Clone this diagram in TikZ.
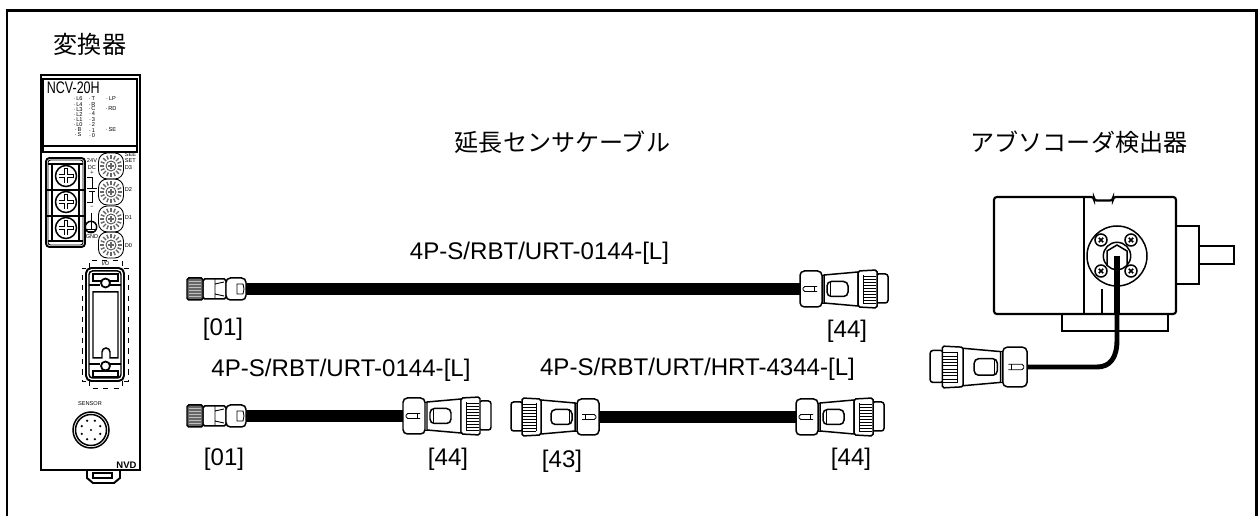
\documentclass[tikz,border=0pt]{standalone}
\usepackage{fontspec}
\setmainfont{Liberation Sans}
\newfontfamily\jpfont{Noto Sans CJK JP}
\newfontfamily\narrowfont[FakeStretch=0.75]{Liberation Sans}
\usetikzlibrary{arrows,shapes,positioning,calc}

\newcommand{\tinysize}{\fontsize{3.2}{3.6}\selectfont}

\tikzset{
  thinline/.style={line width=0.85pt},
  hairline/.style={line width=0.5pt},
  cable/.style={line width=6.4pt},
  jplabel/.style={font=\jpfont\fontsize{13.7}{14}\selectfont, inner sep=0pt},
  partlabel/.style={font=\fontsize{13.7}{14}\selectfont, inner sep=0pt},
  panellabel/.style={font=\tinysize, inner sep=0pt},
  % cable side plug, tail at the origin, nose towards +x
  bigplug/.pic={
    \coordinate (-tail) at (0,0);
    \draw[thinline,fill=white] (58,-17) -- (24,-14) -- (24,14) -- (58,17) -- cycle;
    \draw[thinline,fill=white,rounded corners=2.5pt] (0,-18) -- (22,-18) -- (22,18) -- (0,18) -- cycle;
    \draw[hairline] (24,-14) -- (22,-14) (24,14) -- (22,14);
    \draw[hairline,rounded corners=1pt] (17,-2.5) -- (3,-2.5) -- (3,2.5) -- (17,2.5);
    \draw[hairline] (14,-2.5) -- (14,2.5);
    \draw[thinline,rounded corners=2.5pt] (27,-7.5) rectangle (48,7.5);
    \draw[hairline] (30,-7.5) -- (30,7.5);
    \draw[thinline,fill=white,rounded corners=1.5pt] (76,-15) -- (88,-15) -- (88,14) -- (76,14) -- cycle;
    \draw[thinline,fill=white,rounded corners=1pt] (58,-18) -- (77,-19) -- (77,19) -- (58,18) -- cycle;
    \foreach \yy in {-13,-10,...,14} \draw[hairline] (63,\yy) -- (76,\yy);
    \draw[hairline] (63,-14) -- (63,14);
  },
  % sensor side plug, tail at the origin, nose towards -x
  smallplug/.pic={
    \coordinate (-tail) at (0,0);
    \draw[thinline,fill=white,rounded corners=1pt] (-43,-10) rectangle (-20,10);
    \draw[hairline] (-31,-10) -- (-31,10) (-31,-5) -- (-22,-7) (-31,5) -- (-22,7);
    \draw[thinline,fill=white,rounded corners=2.5pt] (-20,-11) rectangle (0,11);
    \draw[hairline] (-9,-5) -- (-3,-5) -- (-2,0) -- (-3,5) -- (-9,5) -- cycle;
    \draw[thinline,fill=black!60,rounded corners=1pt] (-59,-11) rectangle (-43,11);
    \foreach \yy in {-8,-5,...,9} \draw[hairline,black!25] (-57,\yy) -- (-45,\yy);
  },
  % rotary switch on the panel
  dialsw/.pic={
    \draw[hairline,rounded corners=5pt] (-12.5,-13) rectangle (12.5,13);
    \foreach \ang in {0,22.5,...,337.5} {
      \draw[line width=0.8pt,black!60] (\ang:7) -- (\ang:11);
    }
    \draw[hairline,black!70,fill=white] (0,0) circle (5);
    \draw[line width=0.8pt,black!60] (-3,0) -- (3,0) (0,-3) -- (0,3);
  },
  % terminal screw
  termscrew/.pic={
    \draw[thinline,fill=white] (0,0) circle (10.5);
    \draw[line width=2.2pt] (-7.5,0) -- (7.5,0) (0,-7.5) -- (0,7.5);
    \draw[line width=1.2pt,white] (-7,0) -- (7,0) (0,-7) -- (0,7);
  },
  % encoder cover screw
  coverscrew/.pic={
    \draw[thinline,fill=white] (0,0) circle (6);
    \draw[line width=0.9pt] (-2.2,-2.2) -- (2.2,2.2) (-2.2,2.2) -- (2.2,-2.2);
  }
}

\begin{document}
\begin{tikzpicture}[x=0.02cm,y=-0.02cm]
\useasboundingbox (0,0) rectangle (1259,516);

% Outer frame, open at the bottom
\draw[line width=1.7pt] (7,516) -- (7,11) -- (1256,11) -- (1256,516);

% Headings
\node[jplabel] (convtitle) at (90,44) {変換器};
\node[jplabel] (cabletitle) at (562.5,142) {延長センサケーブル};
\node[jplabel] (enctitle) at (1079,142) {アブソコーダ検出器};

% Converter body
\draw[line width=1.2pt] (41,75) rectangle (140,470);
\draw[line width=1.1pt] (43,79) rectangle (137,152);
\draw[thinline] (43,146) -- (137,146);
\node[anchor=west,inner sep=0pt,font=\narrowfont\fontsize{9.5}{10}\selectfont] (model) at (46.5,87.5) {NCV-20H};

% Indicator labels
\foreach \txt/\yy [count=\i] in {L6/99,L4/105,L3/109.6,L2/114.5,L1/120,L0/124.6,B/130,S/135} {
  \node[panellabel] (ledA\i) at (78,\yy) {·\,\txt};
}
\foreach \txt/\yy [count=\i] in {T/99,R/104.2,C/109,4/114,3/120,2/125,1/130.5,0/135.5} {
  \node[panellabel] (ledB\i) at (92,\yy) {·\,\txt};
}
\node[panellabel] (ledLP) at (111,99) {·\,LP};
\node[panellabel] (ledRD) at (111,109) {·\,RD};
\node[panellabel] (ledSE) at (111,130) {·\,SE};

% Terminal block
\draw[line width=1.1pt,rounded corners=2pt] (46,158) rectangle (85,247);
\draw[hairline,rounded corners=1.5pt] (48,160) rectangle (83,245);
\draw[thinline] (48,164) -- (83,164) (48,241) -- (83,241);
\draw[thinline] (52,164) -- (52,241) (79,164) -- (79,241);
\draw[thinline] (46,190) -- (85,190) (46,216) -- (85,216);
\foreach \yy/\nm in {176/a,202/b,228/c} {
  \pic (screw\nm) at (66,\yy) {termscrew};
}
\node[panellabel,align=center] (power) at (92,164) {24V\\DC};
\node[panellabel] (plus) at (92,173) {+};
\draw[hairline] (87,177) -- (92,177) -- (92,188) (87,188) -- (97,188) (89,191) -- (95,191) (92,191) -- (92,202) -- (87,202);
\node[panellabel] (minus) at (92,207) {−};
\draw[thinline] (91,227) circle (5.7);
\draw[hairline] (91,213) -- (91,229) (86,229) -- (96,229) (88,231) -- (94,231);
\node[panellabel] (gnd) at (92,237) {GND};

% Rotary switches
\foreach \yy/\nm in {166/d,192/c,219/b,245/a} {
  \pic (dial\nm) at (111,\yy) {dialsw};
}
\node[panellabel,align=left,anchor=west] (setd) at (124.5,161) {SEE\\SET\\D3};
\node[panellabel,anchor=west] (dtwo) at (124.5,190) {D2};
\node[panellabel,anchor=west] (done) at (124.5,218) {D1};
\node[panellabel,anchor=west] (dzero) at (124.5,246) {D0};

% I/O connector
\node[panellabel] (iolabel) at (105.5,263) {I/O};
\draw[hairline,dashed] (89,268) -- (89,260) -- (122,260) -- (122,268);
\draw[hairline,dashed] (89,381) -- (89,388) -- (122,388) -- (122,381);
\draw[hairline,dashed] (86,268) -- (82,268) -- (82,381) -- (86,381);
\draw[hairline,dashed] (124,268) -- (128,268) -- (128,381) -- (124,381);
\draw[line width=1.1pt,rounded corners=3pt] (86,268) rectangle (124,381);
\draw[thinline,rounded corners=2pt] (89,271) rectangle (121,378);
\draw[thinline] (93,274) rectangle (118,281) (93,371) rectangle (118,377);
\draw[thinline] (89,285) -- (100,285) (110,285) -- (121,285) (89,364) -- (100,364) (110,364) -- (121,364);
\draw[line width=1pt,fill=white] (105.5,283) circle (4.5) (105.5,366) circle (4.5);
\draw[thinline] (93,292) -- (118,292) -- (118,358) -- (110,358) -- (110,352) arc (0:-180:4) -- (102,358) -- (93,358) -- cycle;

% Sensor socket
\node[panellabel] (sensorlabel) at (90,404) {SENSOR};
\draw[thinline] (91,430) circle (18);
\draw[thinline] (91,430) circle (15.5);
\foreach \ang in {22.5,67.5,...,337.5} {
  \fill ($(91,430)+(\ang:10)$) circle (1.2);
}
\fill (91,430) circle (1.2);

% Logo and bottom clip
\node[inner sep=0pt,font=\fontsize{5.4}{6}\bfseries\selectfont] (logo) at (126.5,465) {NVD};
\draw[line width=1.1pt] (87,470) -- (87,478) -- (93,483) -- (114,483) -- (120,478) -- (120,470);
\draw[thinline] (93,473) rectangle (112,478);

% Cable rows
\pic (plugA) at (246,289) {smallplug};
\pic (plugB) at (800,289) {bigplug};
\pic (plugC) at (246,416) {smallplug};
\pic (plugD) at (403,416) {bigplug};
\pic[xscale=-1] (plugE) at (599,417) {bigplug};
\pic (plugF) at (796,417) {bigplug};
\draw[cable] (plugA-tail) -- (plugB-tail);
\draw[cable] (plugC-tail) -- (plugD-tail);
\draw[cable] (plugE-tail) -- (plugF-tail);

% Cable names
\node[partlabel] (nameA) at (539.5,253) {4P-S/RBT/URT-0144-[L]};
\node[partlabel] (nameB) at (341,370) {4P-S/RBT/URT-0144-[L]};
\node[partlabel] (nameC) at (697.5,369) {4P-S/RBT/URT/HRT-4344-[L]};
\node[partlabel] (idA) at (223,329) {[01]};
\node[partlabel] (idB) at (847,331) {[44]};
\node[partlabel] (idC) at (224,459) {[01]};
\node[partlabel] (idD) at (448,459) {[44]};
\node[partlabel] (idE) at (562,461) {[43]};
\node[partlabel] (idF) at (851,459) {[44]};

% Encoder
\draw[line width=1.2pt] (1062,314) rectangle (1168,331);
\draw[line width=1.2pt] (1176,226) -- (1199,226) -- (1199,284) -- (1176,284);
\draw[line width=1.2pt] (1199,246) -- (1234,246) -- (1234,264) -- (1199,264);
\draw[line width=1.2pt,fill=white,rounded corners=1.6pt] (994,197) -- (1094,197) -- (1094,200.5) -- (1113,200.5) -- (1113,197) -- (1176,197) -- (1176,314) -- (994,314) -- cycle;
\draw[thinline] (1084,197) -- (1084,314);
\draw[thinline] (1102,289) -- (1102,314);
\draw[thinline] (1117,256) circle (30);
\draw[thinline] (1117,256) circle (13.7);
\draw[thinline] (1107,266) -- (1107,251) -- (1117,245) -- (1127,251) -- (1127,266);
\foreach \xx/\yy/\nm in {1101/240/a,1131/240/b,1101/271/c,1131/271/d} {
  \pic (cover\nm) at (\xx,\yy) {coverscrew};
}
\pic[xscale=-1,scale=1.1] (plugG) at (1027,367) {bigplug};
\coordinate (encin) at (1117,256);
\coordinate (encbend) at (1117,314);
\draw[line width=3.4pt] (encin) -- (encbend);
\draw[line width=2.8pt] (encbend) -- (1117,340) .. controls (1117,358) and (1110,367) .. (1097,367) -- (plugG-tail);
\end{tikzpicture}
\end{document}
